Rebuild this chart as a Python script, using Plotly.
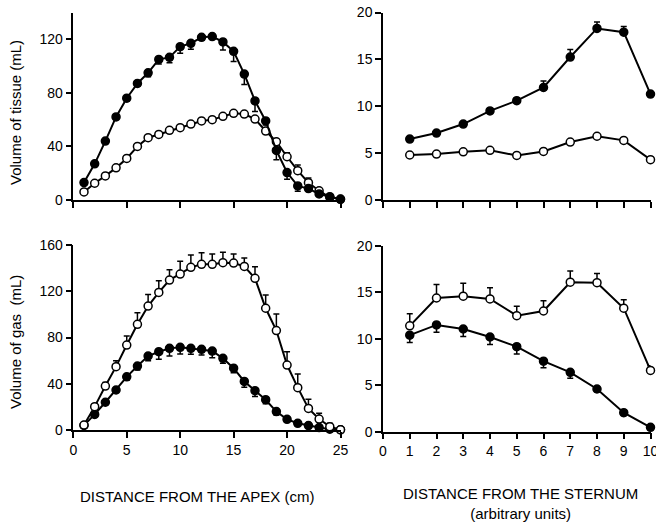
import plotly.graph_objects as go

FONT = "Liberation Sans, Arial, Helvetica, sans-serif"

# ---- data ----
apex_x = list(range(1, 26))
tissue_filled = [13, 27, 44, 62, 76, 87, 95, 105, 106.5, 114.5, 117, 121.5, 122, 118, 111,
                 94, 74, 59, 37, 20.5, 10.5, 8.5, 4.5, 2.5, 0.5]
tissue_filled_err = [1, 1.5, 1.5, 1.5, 2, 2, 3, 3.5, 4, 5, 4.5, 2, 2, 6, 7.5,
                     7.7, 8, 3, 7, 5, 4, 2, 1, 1, 0.5]
tissue_open = [6, 12.5, 18, 24, 31, 40, 46.5, 49, 52, 54, 56.7, 59, 60, 62.5, 64.7,
               64.2, 60.4, 51.5, 43.5, 32.3, 21.9, 12.9, 6.9, 2, 0.7]
tissue_open_err = [1, 1, 1, 1, 1, 1, 1, 1, 1, 1, 1, 1, 1, 1, 1,
                   1, 1, 1, 2, 3, 4.2, 3.5, 2, 1, 0.5]

gas_open = [4.3, 20.2, 38, 54.8, 73.5, 91.4, 107.2, 119, 129.7, 134.9, 140.7, 143.3, 143.3,
            144.7, 144.4, 141.5, 131.2, 105.3, 86, 56.2, 36.6, 18.7, 9.5, 2.9, 0.3]
gas_open_err = [1, 2, 3, 5, 7.8, 10, 10, 10, 9, 11, 10.6, 10, 9,
                9, 7.8, 7.2, 10, 11.5, 14.4, 11.5, 11.8, 8, 4.9, 2.9, 0.5]
gas_filled = [4, 13.5, 24, 34.6, 46, 55.3, 64, 67.7, 70.6, 71.5, 70.6, 69.8, 68.3,
              62, 53.5, 42, 34, 26.2, 15.9, 9.2, 5.8, 3.8, 2.1, 0.7, 0.2]
gas_filled_err = [1, 2, 2, 2, 3, 3.5, 4, 6.6, 6.6, 5.8, 5, 5, 5.8,
                  4.3, 4, 5, 5, 3.5, 3, 2, 1, 1, 0.5, 0.5, 0]

sternum_x = list(range(1, 11))
st_tissue_filled = [6.5, 7.14, 8.1, 9.5, 10.6, 12.0, 15.25, 18.3, 17.9, 11.3]
st_tissue_filled_err = [0.2, 0.2, 0.2, 0.25, 0.3, 0.7, 0.8, 0.7, 0.6, 0.3]
st_tissue_open = [4.8, 4.9, 5.14, 5.3, 4.75, 5.18, 6.18, 6.8, 6.36, 4.3]
st_tissue_open_err = [0.15] * 10

st_gas_open = [11.4, 14.4, 14.6, 14.3, 12.5, 13.0, 16.1, 16.05, 13.3, 6.6]
st_gas_open_err = [1.3, 1.45, 1.4, 1.2, 1.0, 1.1, 1.2, 1.0, 0.9, 0.5]
st_gas_filled = [10.4, 11.5, 11.06, 10.2, 9.16, 7.6, 6.4, 4.6, 2.05, 0.47]
st_gas_filled_err = [0.8, 0.8, 0.8, 0.8, 0.8, 0.7, 0.65, 0.3, 0.3, 0.2]

W, H = 656, 522


def px_x(p):
    return p / W


def px_y(p):
    return 1 - p / H


def trace(x, y, err, filled, up, xa, ya):
    zeros = [0] * len(err)
    eb = dict(type="data", symmetric=False,
              array=err if up else zeros,
              arrayminus=zeros if up else err,
              color="black", thickness=1.5, width=3)
    return go.Scatter(
        x=x, y=y, mode="lines+markers", xaxis=xa, yaxis=ya,
        line=dict(color="black", width=2),
        marker=dict(size=8, symbol="circle",
                    color="black" if filled else "white",
                    line=dict(color="black", width=1.5)),
        error_y=eb, cliponaxis=False, showlegend=False)


fig = go.Figure()
# top-left: tissue vs apex
fig.add_trace(trace(apex_x, tissue_open, tissue_open_err, False, True, "x", "y"))
fig.add_trace(trace(apex_x, tissue_filled, tissue_filled_err, True, False, "x", "y"))
# top-right: tissue vs sternum
fig.add_trace(trace(sternum_x, st_tissue_open, st_tissue_open_err, False, True, "x2", "y2"))
fig.add_trace(trace(sternum_x, st_tissue_filled, st_tissue_filled_err, True, True, "x2", "y2"))
# bottom-left: gas vs apex
fig.add_trace(trace(apex_x, gas_filled, gas_filled_err, True, False, "x3", "y3"))
fig.add_trace(trace(apex_x, gas_open, gas_open_err, False, True, "x3", "y3"))
# bottom-right: gas vs sternum
fig.add_trace(trace(sternum_x, st_gas_filled, st_gas_filled_err, True, False, "x4", "y4"))
fig.add_trace(trace(sternum_x, st_gas_open, st_gas_open_err, False, True, "x4", "y4"))

axis_common = dict(showline=True, linecolor="black", linewidth=1.5, ticks="outside",
                   ticklen=6, tickwidth=1.5, tickcolor="black", showgrid=False,
                   zeroline=False, automargin=False, ticklabeloverflow="allow",
                   tickfont=dict(family=FONT, size=14, color="black"))

left_dom = [px_x(73.3), px_x(340.5)]
right_dom = [px_x(383), px_x(650.5)]
top_dom = [px_y(200), px_y(12.5)]
bl_dom = [px_y(430), px_y(245)]
br_dom = [px_y(431.7), px_y(246)]

fig.update_layout(
    width=W, height=H, margin=dict(l=0, r=0, t=0, b=0, autoexpand=False),
    paper_bgcolor="white", plot_bgcolor="white",
    font=dict(family=FONT, color="black"),
    xaxis=dict(domain=left_dom, anchor="y", range=[0, 25], tickvals=[0, 5, 10, 15, 20, 25],
               showticklabels=False, **axis_common),
    yaxis=dict(domain=top_dom, anchor="x", range=[0, 140], tickvals=[0, 40, 80, 120],
               **axis_common),
    xaxis2=dict(domain=right_dom, anchor="y2", range=[0, 10], tickvals=list(range(0, 11)),
                showticklabels=False, **axis_common),
    yaxis2=dict(domain=top_dom, anchor="x2", range=[0, 20], tickvals=[0, 5, 10, 15, 20],
                **axis_common),
    xaxis3=dict(domain=left_dom, anchor="y3", range=[0, 25], tickvals=[0, 5, 10, 15, 20, 25],
                **axis_common),
    yaxis3=dict(domain=bl_dom, anchor="x3", range=[0, 160], tickvals=[0, 40, 80, 120, 160],
                **axis_common),
    xaxis4=dict(domain=right_dom, anchor="y4", range=[0, 10], tickvals=list(range(0, 11)),
                **axis_common),
    yaxis4=dict(domain=br_dom, anchor="x4", range=[0, 20], tickvals=[0, 5, 10, 15, 20],
                **axis_common),
)

title_font = dict(family=FONT, size=15, color="black")
ann = dict(xref="paper", yref="paper", showarrow=False, font=title_font,
           xanchor="center", yanchor="middle")
fig.add_annotation(text="Volume of tissue (mL)", x=px_x(15), y=px_y(113), textangle=-90, **ann)
fig.add_annotation(text="Volume of gas&nbsp;&nbsp;(mL)", x=px_x(15), y=px_y(342),
                   textangle=-90, **ann)
fig.add_annotation(text="DISTANCE FROM THE APEX (cm)", x=px_x(197), y=px_y(496), **ann)
fig.add_annotation(text="DISTANCE FROM THE STERNUM<br>(arbitrary units)",
                   x=px_x(520), y=px_y(503), **ann)

fig.write_html("out.html")
